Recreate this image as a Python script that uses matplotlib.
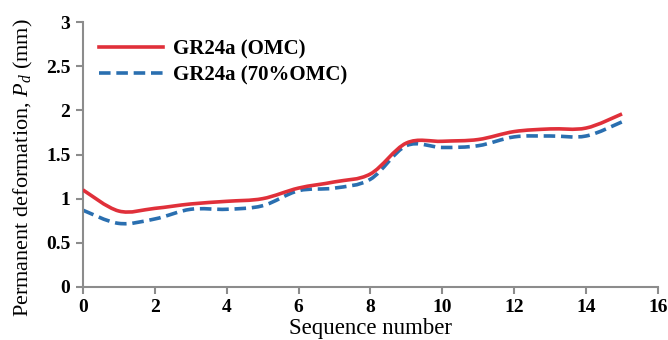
import numpy as np
import matplotlib
matplotlib.use('Agg')
import matplotlib.pyplot as plt
from matplotlib.path import Path
from matplotlib.patches import PathPatch

plt.rcParams['font.family'] = ['Liberation Serif', 'DejaVu Serif']
plt.rcParams['mathtext.fontset'] = 'custom'
plt.rcParams['mathtext.rm'] = 'Liberation Serif'
plt.rcParams['mathtext.it'] = 'Liberation Serif:italic'

# data
sequence = [0, 1, 2, 3, 4, 5, 6, 7, 8, 9, 10, 11, 12, 13, 14, 15]
pd_omc = [1.10, 0.86, 0.89, 0.94, 0.97, 1.00, 1.12, 1.19, 1.28, 1.63,
          1.65, 1.67, 1.76, 1.79, 1.80, 1.96]
pd_70omc = [0.87, 0.72, 0.77, 0.88, 0.88, 0.92, 1.09, 1.12, 1.22, 1.60,
            1.58, 1.60, 1.70, 1.71, 1.71, 1.87]
labels = ['GR24a (OMC)', 'GR24a (70%OMC)']
colors = ['#e0303a', '#2a6fb0']
styles = ['-', (0, (3.2, 1.6))]


def smooth_path(x, y):
    # excel-like smoothed line: cubic bezier segments through the points
    x = np.asarray(x, float)
    y = np.asarray(y, float)
    n = len(x)
    verts = [(x[0], y[0])]
    codes = [Path.MOVETO]
    for i in range(n - 1):
        p0 = np.array([x[max(i - 1, 0)], y[max(i - 1, 0)]])
        p1 = np.array([x[i], y[i]])
        p2 = np.array([x[i + 1], y[i + 1]])
        p3 = np.array([x[min(i + 2, n - 1)], y[min(i + 2, n - 1)]])
        c1 = p1 + (p2 - p0) / 6
        c2 = p2 - (p3 - p1) / 6
        verts += [tuple(c1), tuple(c2), tuple(p2)]
        codes += [Path.CURVE4] * 3
    return Path(verts, codes)


fig = plt.figure(figsize=(6.68, 3.4), dpi=100)
ax = fig.add_axes([0.124, 0.156, 0.861, 0.779])

for ys, c, ls, lab in zip([pd_omc, pd_70omc], colors, styles, labels):
    patch = PathPatch(smooth_path(sequence, ys), facecolor='none', edgecolor=c,
                      linewidth=2.6, linestyle=ls, zorder=3 if ls == '-' else 2)
    ax.add_patch(patch)
    ax.plot([], [], color=c, linewidth=2.6, linestyle=ls, label=lab)

ax.set_xlim(0, 16)
ax.set_ylim(0, 3)
ax.set_xticks(range(0, 17, 2))
ax.set_yticks([0, 0.5, 1, 1.5, 2, 2.5, 3])
ax.set_yticklabels(['0', '0.5', '1', '1.5', '2', '2.5', '3'])

for s in ['top', 'right']:
    ax.spines[s].set_visible(False)
for s in ['left', 'bottom']:
    ax.spines[s].set_color('#8c8c8c')
    ax.spines[s].set_linewidth(1.5)
ax.tick_params(direction='out', length=5, width=1.5, color='#8c8c8c',
               labelsize=14, pad=4)
for t in ax.get_xticklabels() + ax.get_yticklabels():
    t.set_fontweight('bold')

ax.set_xlabel('Sequence number', fontsize=16.5, labelpad=1)
ax.set_ylabel('Permanent deformation, $P_d$ (mm)', fontsize=16)
ax.yaxis.set_label_coords(-0.083, 0.45)

leg = ax.legend(loc='upper left', bbox_to_anchor=(-0.005, 1.005), frameon=False,
                prop={'weight': 'bold', 'size': 15}, handlelength=3.1,
                handletextpad=0.45, labelspacing=0.3)

fig.savefig('out.png', dpi=100)
